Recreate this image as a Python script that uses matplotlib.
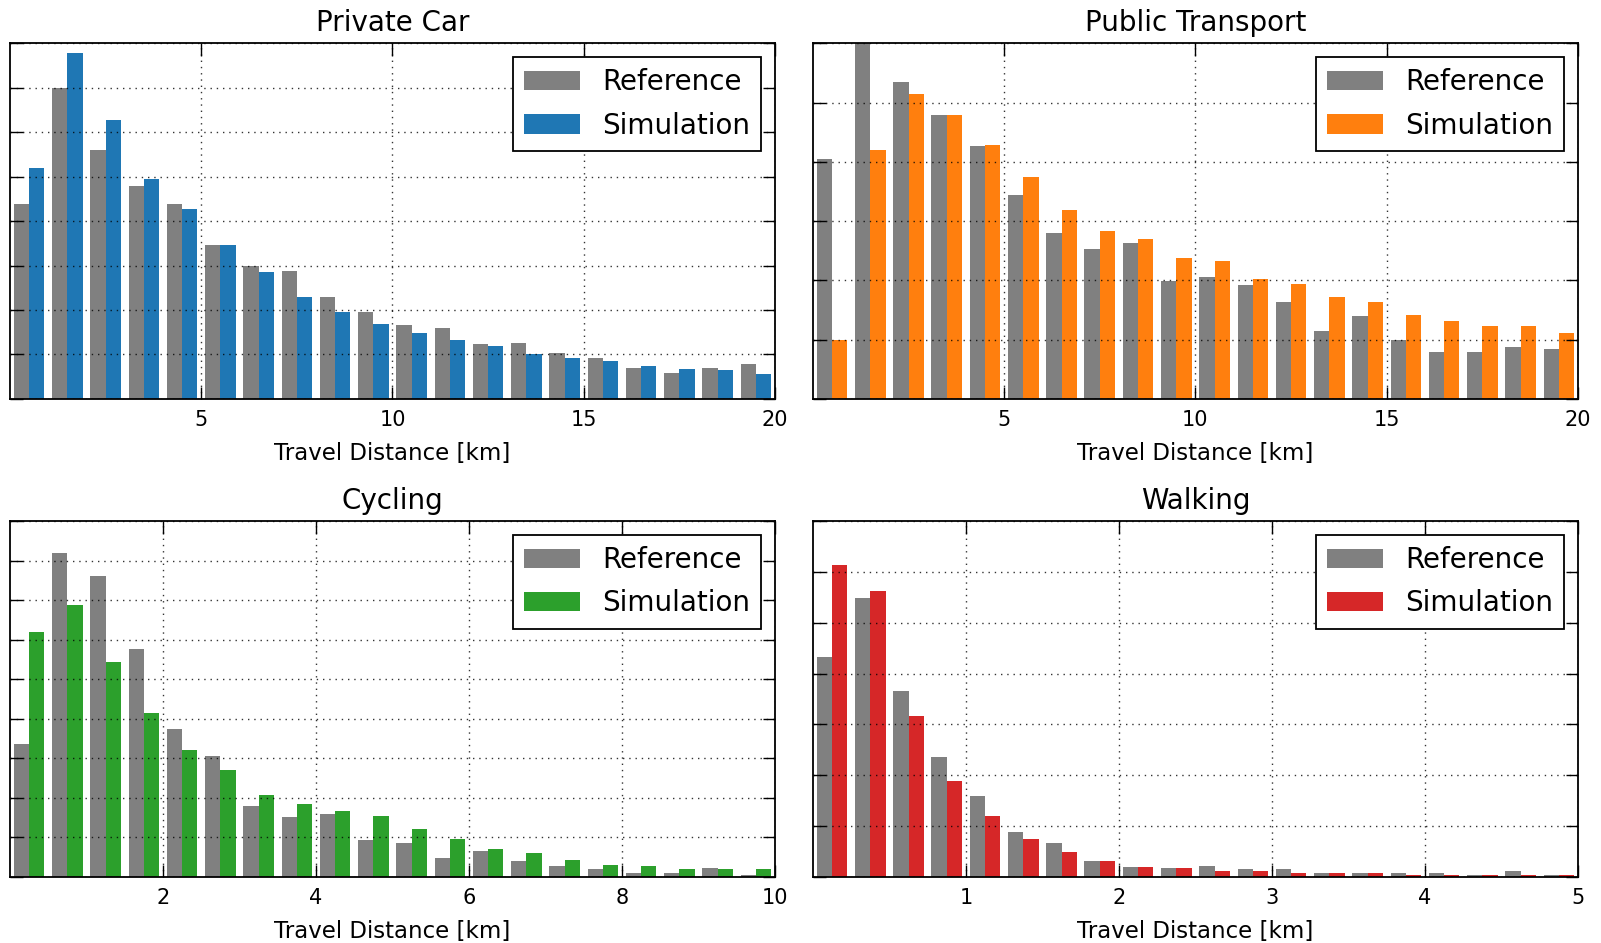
import numpy as np
import matplotlib
matplotlib.use('Agg')
import matplotlib.pyplot as plt

# share of trips per distance bin [%], reference survey vs. simulation
car_ref = [8.78, 13.97, 11.21, 9.59, 8.78, 6.93, 5.99, 5.75, 4.58, 3.93,
           3.33, 3.18, 2.46, 2.51, 2.08, 1.85, 1.40, 1.17, 1.40, 1.55]
car_sim = [10.40, 15.58, 12.54, 9.89, 8.55, 6.93, 5.69, 4.58, 3.93, 3.39,
           2.95, 2.66, 2.37, 2.00, 1.85, 1.70, 1.48, 1.33, 1.28, 1.10]

pt_ref = [8.09, 12.00, 10.68, 9.58, 8.54, 6.88, 5.60, 5.06, 5.27, 3.99,
          4.12, 3.83, 3.28, 2.29, 2.79, 1.97, 1.58, 1.58, 1.75, 1.69]
pt_sim = [2.00, 8.41, 10.30, 9.58, 8.58, 7.48, 6.38, 5.66, 5.38, 4.77,
          4.66, 4.06, 3.89, 3.45, 3.28, 2.84, 2.62, 2.46, 2.46, 2.23]

bike_ref = [6.72, 16.37, 15.20, 11.54, 7.48, 6.09, 3.59, 3.02, 3.18, 1.86,
            1.69, 0.93, 1.29, 0.78, 0.52, 0.37, 0.20, 0.20, 0.44, 0.10]
bike_sim = [12.39, 13.78, 10.88, 8.31, 6.40, 5.40, 4.16, 3.68, 3.34, 3.08,
            2.42, 1.93, 1.42, 1.18, 0.85, 0.61, 0.52, 0.37, 0.37, 0.37]

walk_ref = [8.67, 10.99, 7.31, 4.73, 3.19, 1.77, 1.32, 0.61, 0.40, 0.34,
            0.41, 0.29, 0.29, 0.14, 0.14, 0.14, 0.14, 0.08, 0.21, 0.05]
walk_sim = [12.29, 11.24, 6.34, 3.75, 2.41, 1.50, 0.99, 0.61, 0.40, 0.34,
            0.21, 0.21, 0.14, 0.14, 0.14, 0.08, 0.08, 0.08, 0.08, 0.08]

modes = ['Private Car', 'Public Transport', 'Cycling', 'Walking']
max_dist = [20, 20, 10, 5]
x_ticks = [[5, 10, 15, 20], [5, 10, 15, 20], [2, 4, 6, 8, 10], [1, 2, 3, 4, 5]]
y_max = [16, 12, 18, 14]
colors = ['#1f77b4', '#ff7f0e', '#2ca02c', '#d62728']
ref_data = [car_ref, pt_ref, bike_ref, walk_ref]
sim_data = [car_sim, pt_sim, bike_sim, walk_sim]

plt.rcParams['font.family'] = 'DejaVu Sans'

fig, axes = plt.subplots(2, 2, figsize=(16.01, 9.43), dpi=100)
fig.subplots_adjust(left=0.0062, right=0.9856, top=0.9541, bottom=0.0703,
                    wspace=0.0496, hspace=0.344)

for ax, mode, dmax, xt, ymax, c, ref, sim in zip(axes.flat, modes, max_dist, x_ticks,
                                                  y_max, colors, ref_data, sim_data):
    edges = np.linspace(0, dmax, len(ref) + 1)
    centers = (edges[:-1] + edges[1:]) / 2
    ax.hist([centers, centers], bins=edges, weights=[ref, sim],
            color=['gray', c], label=['Reference', 'Simulation'])
    ax.set_xlim(0, dmax)
    ax.set_ylim(0, ymax)
    ax.set_xticks(xt)
    ax.set_yticks(np.arange(0, ymax + 1, 2))
    ax.tick_params(direction='in', top=True, right=True, length=9, width=1,
                   labelleft=False, labelsize=15, pad=8)
    ax.grid(True, color='black', linestyle=(0, (1, 3.5)), linewidth=1, alpha=0.8)
    ax.set_axisbelow(False)
    for s in ax.spines.values():
        s.set_linewidth(1.3)
    ax.set_title(mode, fontsize=20, pad=9)
    ax.set_xlabel('Travel Distance [km]', fontsize=16.5, labelpad=9)
    leg = ax.legend(loc='upper right', fontsize=20, fancybox=False, framealpha=1,
                    labelspacing=0.55)
    leg.get_frame().set_edgecolor('black')
    leg.get_frame().set_linewidth(1.3)

fig.savefig('out.png', dpi=100)
